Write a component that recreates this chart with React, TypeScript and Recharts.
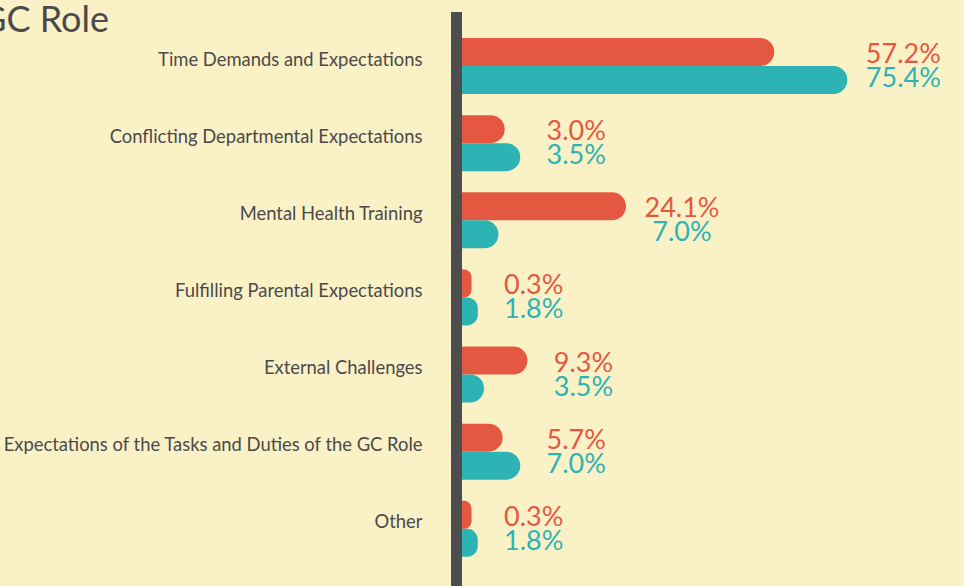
import React from "react";
import { BarChart, Bar, XAxis, YAxis, LabelList } from "recharts";

const categories = [
  "Time Demands and Expectations",
  "Conflicting Departmental Expectations",
  "Mental Health Training",
  "Fulfilling Parental Expectations",
  "External Challenges",
  "Expectations of the Tasks and Duties of the GC Role",
  "Other",
];

// bar lengths as drawn in the picture (the source drawing is not to scale)
const redBars = [61.3, 9.3, 32.7, 2.9, 13.7, 8.9, 2.9];
const tealBars = [75.4, 12.3, 8.1, 4.1, 5.3, 12.3, 4.1];

// printed percentages
const redLabels = ["57.2%", "3.0%", "24.1%", "0.3%", "9.3%", "5.7%", "0.3%"];
const tealLabels = ["75.4%", "3.5%", "7.0%", "1.8%", "3.5%", "7.0%", "1.8%"];

const RED = "#e45841";
const TEAL = "#2db3b4";
const INK = "#4a4a4a";
const BG = "#fbf1c7";
const FONT = "Lato, 'Open Sans', sans-serif";

const data = categories.map((name, i) => ({ name, red: redBars[i], teal: tealBars[i] }));

const makeLabel = (which: "red" | "teal") => (props: any) => {
  const vb = props.viewBox || props;
  const { x, y, width, height } = vb;
  const i = props.index;
  const v = which === "red" ? redBars[i] : tealBars[i];
  const k = width / v;
  const end = x + Math.max(redBars[i], tealBars[i]) * k;
  const mid = which === "red" ? y + height : y;
  return (
    <text
      x={end + 56}
      y={which === "red" ? mid - 3 : mid + 21}
      textAnchor="middle"
      fill={which === "red" ? RED : TEAL}
      fontSize={27}
      fontFamily={FONT}
    >
      {which === "red" ? redLabels[i] : tealLabels[i]}
    </text>
  );
};

const CatTick = (props: any) => {
  const { x, y, payload } = props;
  return (
    <text x={x} y={y} textAnchor="end" fill={INK} fontSize={18.4} fontFamily={FONT}>
      {payload.value}
    </text>
  );
};

export default function App() {
  return (
    <div style={{ position: "absolute", left: 0, top: 0, width: 964, height: 586, background: BG, overflow: "hidden" }}>
      <svg width={964} height={40} style={{ position: "absolute", left: 0, top: 0 }}>
        <text x={109} y={32} textAnchor="end" fill={INK} fontSize={36} fontFamily={FONT}>
          GC Role
        </text>
      </svg>
      <BarChart
        width={964}
        height={586}
        data={data}
        layout="vertical"
        margin={{ top: 12, right: 41, bottom: 0, left: 0 }}
        barSize={28}
        barGap={0}
      >
        <XAxis type="number" domain={[0, 90]} hide />
        <Bar dataKey="red" fill={RED} radius={[0, 14, 14, 0]} isAnimationActive={false}>
          <LabelList dataKey="red" content={makeLabel("red")} />
        </Bar>
        <Bar dataKey="teal" fill={TEAL} radius={[0, 14, 14, 0]} isAnimationActive={false}>
          <LabelList dataKey="teal" content={makeLabel("teal")} />
        </Bar>
        <YAxis
          type="category"
          dataKey="name"
          width={456.5}
          axisLine={{ stroke: "#4d4d4d", strokeWidth: 11 }}
          tickLine={false}
          tickSize={0}
          tickMargin={34}
          tick={<CatTick />}
          padding={{ top: 15, bottom: 19 }}
          interval={0}
        />
      </BarChart>
    </div>
  );
}
